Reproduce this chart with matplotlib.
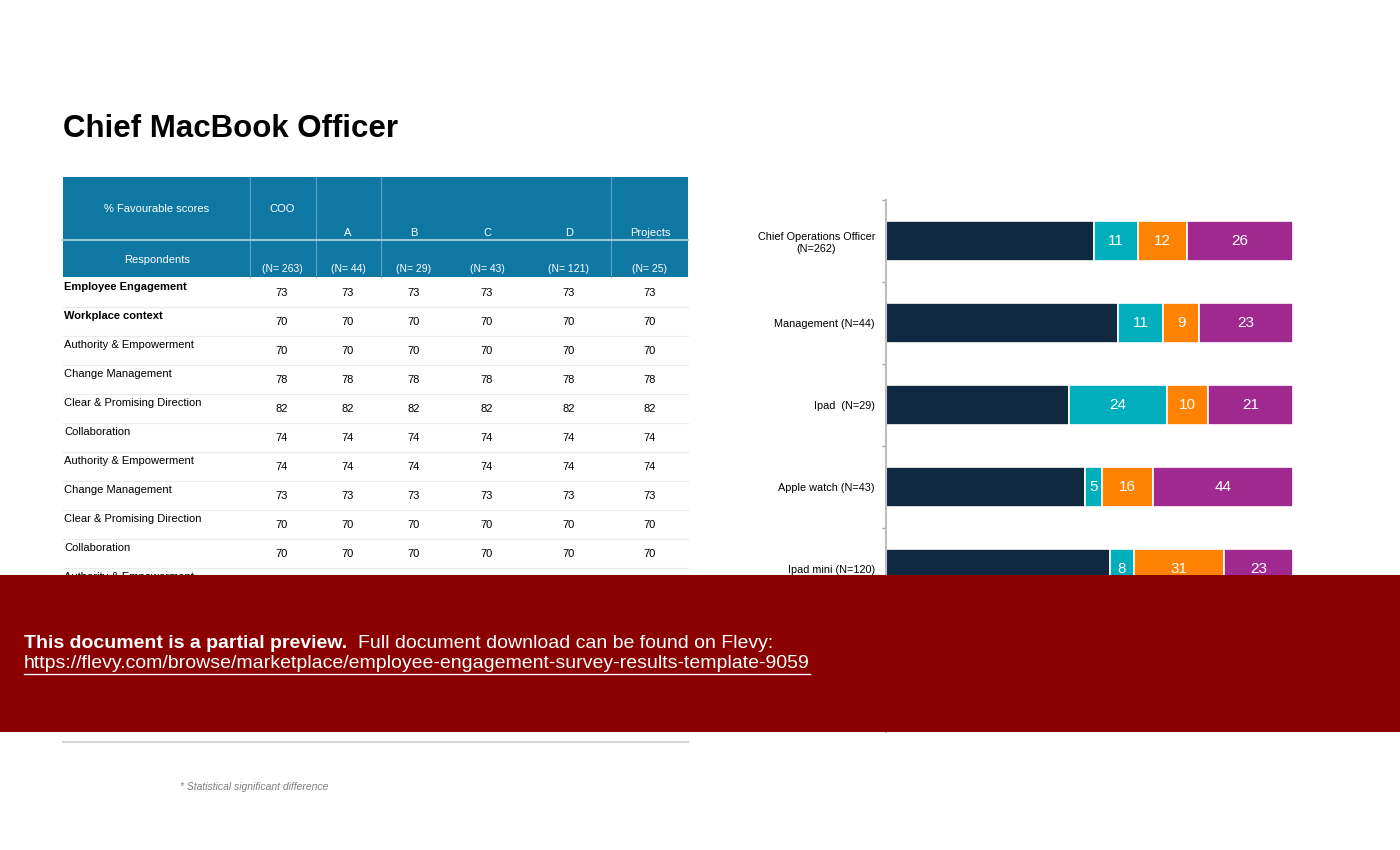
import matplotlib.pyplot as plt
from matplotlib.patches import Rectangle

plt.rcParams['font.family'] = ['Liberation Sans Narrow', 'Liberation Sans', 'DejaVu Sans']

# Datos de la tabla
columnas = ['COO', 'A', 'B', 'C', 'D', 'Projects']
respondentes = ['(N= 263)', '(N= 44)', '(N= 29)', '(N= 43)', '(N= 121)', '(N= 25)']
filas = ['Employee Engagement', 'Workplace context', 'Authority & Empowerment',
         'Change Management', 'Clear & Promising Direction', 'Collaboration',
         'Authority & Empowerment', 'Change Management', 'Clear & Promising Direction',
         'Collaboration', 'Authority & Empowerment', 'Change Management',
         'Clear & Promising Direction', 'Collaboration', 'Authority & Empowerment',
         'Change Management']
filas_negrita = ['Employee Engagement', 'Workplace context']
valores = [73, 70, 70, 78, 82, 74, 74, 73, 70, 70, 70, 70, 70, 70, 70, 70]

# Datos del grafico de barras
grupos = ['Chief Operations Officer\n(N=262)', 'Management (N=44)', 'Ipad  (N=29)',
          'Apple watch (N=43)', 'Ipad mini (N=120)']
serie_1 = [51, 57, 45, 49, 55]
serie_2 = [11, 11, 24, 4, 6]
serie_3 = [12, 9, 10, 12.5, 22]
serie_4 = [26, 23, 21, 34.5, 17]
etiquetas_2 = ['11', '11', '24', '5', '8']
etiquetas_3 = ['12', '9', '10', '16', '31']
etiquetas_4 = ['26', '23', '21', '44', '23']
colores = ['#102840', '#00AEBC', '#FF8300', '#A0298F']

W, H = 1400, 850
banner_top, banner_bot = 575, 732
fig = plt.figure(figsize=(14, 8.5), dpi=100)

# Capa en pixeles para la tabla y los textos
lay = fig.add_axes([0, 0, 1, 1])
lay.set_xlim(0, W)
lay.set_ylim(H, 0)
lay.axis('off')

lay.text(63, 137, 'Chief MacBook Officer', fontsize=22.5, fontweight='bold', va='baseline')

# Encabezado de la tabla
azul = '#0E78A3'
x0, x1 = 63, 688
lay.add_patch(Rectangle((x0, 177), x1 - x0, 100, color=azul, lw=0))
for xs in [250, 316, 381, 611]:
    lay.plot([xs, xs], [177, 277], color='#5fa3c4', lw=0.8)
lay.plot([x0, x1], [240, 240], color='#9cc6da', lw=1.5)
lay.text(157, 209, '% Favourable scores', color='white', fontsize=8, ha='center', va='center')
lay.text(157, 260, 'Respondents', color='white', fontsize=8, ha='center', va='center')
col_x = [282, 348, 414, 487, 569, 650]
for i, c in enumerate(columnas):
    yy = 209 if c == 'COO' else 233
    lay.text(col_x[i], yy, c, color='white', fontsize=8, ha='center', va='center')
    lay.text(col_x[i], 269, respondentes[i], color='white', fontsize=7.5, ha='center', va='center')

# Filas de la tabla (lo que queda bajo el banner no se escribe)
alto = 29
for r, nombre in enumerate(filas):
    top = 277 + r * alto
    peso = 'bold' if nombre in filas_negrita else 'normal'
    if not (banner_top + 6 < top + 10 < banner_bot - 6):
        lay.text(64, top + 10, nombre, fontsize=8, fontweight=peso, va='center')
    if not (banner_top + 6 < top + 16 < banner_bot - 6):
        for i in range(len(columnas)):
            lay.text(col_x[i], top + 16, str(valores[r]), fontsize=8, ha='center', va='center')
    if r < len(filas) - 1:
        lay.plot([x0, x1], [top + alto + 1, top + alto + 1], color='#ebebeb', lw=0.8)
lay.plot([x0, x1], [742, 742], color='#d6d6d6', lw=1.5)

lay.text(180, 787, '* Statistical significant difference', fontsize=7.5, style='italic',
         color='#7f7f7f', va='center')

# Grafico de barras apiladas
ax = fig.add_axes([886 / W, 1 - banner_bot / H, 407 / W, (banner_bot - 200) / H])
n = len(grupos)
pos = list(range(n))
series = [serie_1, serie_2, serie_3, serie_4]
etiquetas = [None, etiquetas_2, etiquetas_3, etiquetas_4]
izq = [0] * n
for s, serie in enumerate(series):
    bars = ax.barh(pos, serie, left=izq, height=0.49, color=colores[s],
                   edgecolor='white', linewidth=1.2)
    if etiquetas[s] is not None:
        ax.bar_label(bars, labels=etiquetas[s], label_type='center', color='white', fontsize=11)
    izq = [a + b for a, b in zip(izq, serie)]

ax.set_xlim(0, 100)
ax.set_ylim(-0.5 + (banner_bot - 200) / 82, -0.5)
ax.set_yticks(pos)
ax.set_yticklabels(grupos, fontsize=7.8, ha='right', multialignment='center')
ax.tick_params(axis='y', length=0, pad=8)
ax.set_yticks([p - 0.5 for p in range(n + 2)], minor=True)
ax.tick_params(axis='y', which='minor', length=3, color='#a6a6a6', width=1)
ax.set_xticks([])
for lado in ['top', 'right', 'bottom']:
    ax.spines[lado].set_visible(False)
ax.spines['left'].set_color('#bfbfbf')
ax.spines['left'].set_linewidth(1.5)

# Banner de vista previa, en una capa encima de todo
ban = fig.add_axes([0, 0, 1, 1])
ban.set_xlim(0, W)
ban.set_ylim(H, 0)
ban.axis('off')
ban.patch.set_alpha(0)
ban.add_patch(Rectangle((0, banner_top), W, banner_bot - banner_top, color='#8B0000', lw=0))
ban.text(24, 643, 'This document is a partial preview.', color='white', fontsize=14,
         fontweight='bold', va='center')
ban.text(358, 643, 'Full document download can be found on Flevy:', color='white',
         fontsize=14, va='center')
url = ban.text(24, 664, 'https://flevy.com/browse/marketplace/employee-engagement-survey-results-template-9059',
               color='white', fontsize=14, va='center')
# Subrayado del enlace segun el ancho real del texto
bb = url.get_window_extent(renderer=fig.canvas.get_renderer())
ban.plot([24, 24 + bb.width], [674, 674], color='white', lw=1)

fig.savefig('out.png', dpi=100)
